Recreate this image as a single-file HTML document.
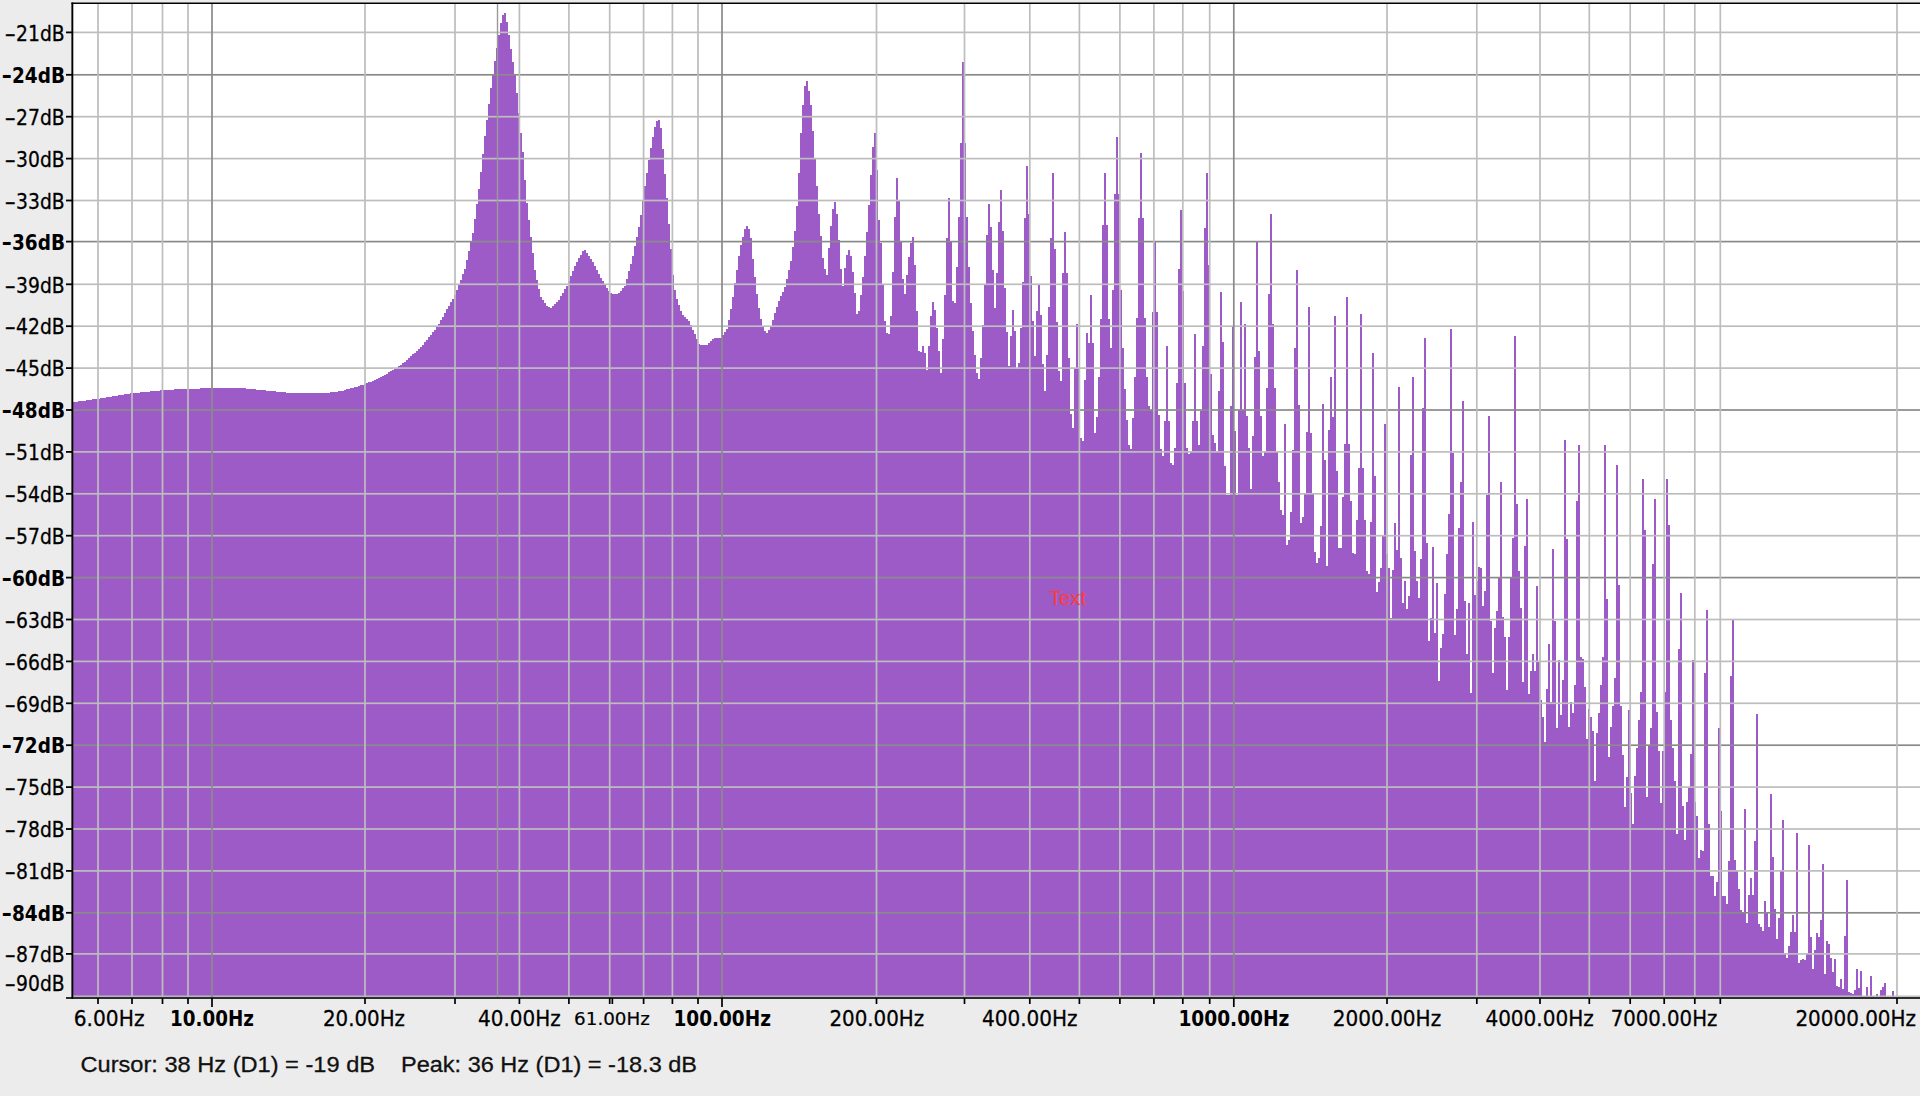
<!DOCTYPE html>
<html><head><meta charset="utf-8"><title>Frequency Analysis</title>
<style>
html,body{margin:0;padding:0;background:#ececec;}
body{width:1920px;height:1096px;overflow:hidden;position:relative;font-family:"DejaVu Sans","Liberation Sans",sans-serif;}
svg{position:absolute;left:0;top:0;display:block}
.ax{font-family:"DejaVu Sans","Liberation Sans",sans-serif;font-size:21.5px;fill:#000;stroke:#000;stroke-width:0.3px}
.axb{font-family:"DejaVu Sans Condensed","DejaVu Sans","Liberation Sans",sans-serif;font-weight:bold;font-size:21.5px;fill:#000}
.ax2{font-family:"DejaVu Sans","Liberation Sans",sans-serif;font-size:21.5px;fill:#000;stroke:#000;stroke-width:0.3px}
.axb2{font-family:"DejaVu Sans","Liberation Sans",sans-serif;font-weight:bold;font-size:21.5px;fill:#000}
.sm{font-family:"DejaVu Sans","Liberation Sans",sans-serif;font-size:18px;fill:#000;stroke:#000;stroke-width:0.2px}
.st{font-family:"Liberation Sans",sans-serif;font-size:22px;fill:#111;stroke:#111;stroke-width:0.3px;white-space:pre}
.tx{font-family:"Liberation Sans",sans-serif;font-size:21px;fill:#ff3b3b}
</style></head><body>
<svg width="1920" height="1096" viewBox="0 0 1920 1096" shape-rendering="crispEdges">
<rect x="0" y="0" width="1920" height="1096" fill="#ececec"/>
<rect x="72" y="3" width="1848" height="994" fill="#ffffff"/>
<path fill="#9d5bc8" d="M72.4,997.0V402H74V401.5H76V401.5H78V401H80V401H82V400.5H84V400.5H86V400H88V400H90V399.5H92V399H94V399H96V398.5H98V398.5H100V398H102V397.5H104V397.5H106V397H108V396.5H110V396.5H112V396H114V396H116V395.5H118V395H120V395H122V394.5H124V394H126V394H128V393.5H130V393H132V393H134V392.5H136V392.5H138V392.5H140V392H142V392H144V391.5H146V391.5H148V391.5H150V391H152V391H154V390.5H156V390.5H158V390.5H160V390H162V390H164V390H166V389.5H168V389.5H170V389.5H172V389.5H174V389H176V389H178V389H180V389H182V389H184V388.5H186V388.5H188V388.5H190V388.5H192V388.5H194V388.5H196V388.5H198V388.5H200V388H202V388H204V388H206V388H208V388H210V388H212V388H214V388H216V388H218V388H220V388H222V388H224V388H226V388H228V388H230V388H232V388H234V388H236V388H238V388H240V388H242V388H244V388H246V388.5H248V388.5H250V388.5H252V389H254V389H256V389.5H258V389.5H260V389.5H262V390H264V390H266V390.5H268V390.5H270V390.5H272V391H274V391H276V391.5H278V391.5H280V392H282V392H284V392H286V392.5H288V392.5H290V393H292V393H294V393H296V393H298V393H300V393H302V393H304V393H306V393H308V393H310V393H312V393H314V393H316V393H318V393H320V393H322V393H324V393H326V393H328V392.5H330V392H332V392H334V392H336V391.5H338V391H340V391H342V390.5H344V390H346V389H348V388.5H350V388H352V387.5H354V387H356V386.5H358V386H360V385H362V384.5H364V384H366V383H368V382H370V381.5H372V380.5H374V379.5H376V379H378V378H380V377H382V376H384V374.5H386V373.5H388V372H390V371H392V370H394V368.5H396V367.5H398V366H400V365H402V363H404V361.5H406V359.5H408V358H410V356H412V354H414V352.5H416V350.5H418V349H420V347H422V344.5H424V342H426V339.5H428V337H430V334.5H432V332H434V329.5H436V327H438V323.5H440V320H442V316.5H444V313H446V309H448V305.5H450V302H452V298.5H454V295H456V290H458V284.5H460V279.5H462V274H464V269H466V260H468V251H470V242H472V233H474V218.5H476V203.5H478V189H480V171.5H482V153.5H484V136H486V120H488V104H490V88H492V74.5H494V61H496V47.5H498V35H500V22.5H502V15H504V12.5H506V22H508V35H510V49H512V61.5H514V73.5H516V92.5H518V113H520V132.5H522V152H524V180H526V203H528V220H530V236.5H532V253H534V270H536V279.5H538V289H540V296.5H542V299.5H544V303H546V305.5H548V307H550V307.5H552V306H554V304H556V302H558V299.5H560V296H562V292.5H564V289H566V285.5H568V280.5H570V275.5H572V270.5H574V265.5H576V261.5H578V258H580V254.5H582V251H584V250H586V253H588V256H590V258.5H592V261.5H594V265.5H596V269.5H598V273.5H600V277.5H602V281H604V284H606V287.5H608V290.5H610V293H612V293.5H614V293.5H616V294H618V292.5H620V290.5H622V288H624V286H626V278.5H628V271H630V263.5H632V255.5H634V246H636V236.5H638V227H640V214.5H642V200H644V186H646V173H648V160H650V147.5H652V136.5H654V127H656V121H658V119.5H660V127.5H662V148.5H664V174H666V198H668V223.5H670V249H672V275H674V289.5H676V299H678V305H680V311H682V315H684V317H686V319H688V321H690V325H692V329.5H694V334H696V338.5H698V343.5H700V345H702V345H704V345H706V345H708V343H710V341H712V339H714V338H716V338H718V337.5H720V337.5H722V335H724V332H726V329H728V319.5H730V309H732V296.5H734V283H736V269.5H738V256H740V244.5H742V236.5H744V229H746V225.5H748V229H750V238H752V258.5H754V276.5H756V293.5H758V307.5H760V318.5H762V327H764V330.5H766V333H768V329.5H770V325.5H772V319.5H774V313H776V306.5H778V301H780V296H782V291.5H784V286.5H786V279H788V270H790V261H792V246.5H794V230.5H796V206H798V173H800V133H802V105H804V85.5H806V81H808V90.5H810V104.5H812V131H814V158H816V185.5H818V213.5H820V236H822V258H824V269H826V274.5H828V247.5H830V226H832V208.5H834V201.5H836V213.5H838V239.5H840V268.5H842V286H844V268H846V254.5H848V249.5H850V256H852V272H854V292.5H856V313.5H858V310.5H860V294.5H862V276.5H864V256H866V232H868V205H870V174.5H872V146.5H874V133H876V170H878V220H880V242.5H882V283.5H884V321H886V332.5H888V333.5H890V316H892V272H894V216.5H896V177.5H898V200.5H900V241.5H902V279H904V293.5H906V274.5H908V256.5H910V242.5H912V237H914V264.5H916V311H918V351H920V351.5H922V346H924V353H926V370H928V346H930V316H932V302H934V309.5H936V328H938V350.5H940V373H942V338.5H944V294.5H946V238H948V198H950V242H952V301H954V302.5H956V266.5H958V217H960V142.5H962V62H964V142.5H966V217H968V266.5H970V302.5H972V331H974V354.5H976V372.5H978V378.5H980V358H982V325H984V283.5H986V234.5H988V203.5H990V227H992V269.5H994V307.5H996V273H998V222H1000V189.5H1002V230.5H1004V288H1006V332H1008V366H1010V336H1012V310H1014V330.5H1016V368.5H1018V363H1020V328H1022V281.5H1024V218H1026V166H1028V214H1030V275.5H1032V321H1034V356H1036V311H1038V285H1040V315H1042V363.5H1044V390.5H1046V355H1048V307H1050V237.5H1052V172.5H1054V248.5H1056V321.5H1058V370.5H1060V381H1062V272.5H1064V232H1066V272.5H1068V357.5H1070V413.5H1072V427.5H1074V368H1076V324H1078V368H1080V437.5H1082V440.5H1084V379.5H1086V332.5H1088V343H1090V295H1092V343H1094V433H1096V417H1098V376.5H1100V318.5H1102V225H1104V172.5H1106V225H1108V318.5H1110V348H1112V289.5H1114V193.5H1116V137H1118V193.5H1120V289.5H1122V348H1124V388.5H1126V420H1128V445H1130V449H1132V418H1134V377H1136V317.5H1138V217.5H1140V152.5H1142V217.5H1144V317.5H1146V377H1148V406H1150V409.5H1152V312H1154V241.5H1156V312H1158V414.5H1160V448.5H1162V456H1164V421H1166V346H1168V421H1170V462.5H1172V464.5H1174V448H1176V383H1178V269H1180V210H1182V291H1184V383H1186V448H1188V454H1190V452H1192V421H1194V334H1196V421H1198V445H1200V410.5H1202V346H1204V228H1206V172.5H1208V264.5H1210V374H1212V435H1214V443H1216V451.5H1218V390.5H1220V292H1222V342H1224V465.5H1226V495H1228V495H1230V406H1232V327H1234V431H1236V495H1238V409.5H1240V301.5H1242V409.5H1244V324H1246V415.5H1248V447.5H1250V488.5H1252V436H1254V357H1256V241.5H1258V351H1260V415.5H1262V456H1264V451.5H1266V387.5H1268V293.5H1270V213.5H1272V323.5H1274V387.5H1276V451.5H1278V482H1280V509.5H1282V515H1284V424H1286V544.5H1288V540H1290V511.5H1292V450H1294V348H1296V269.5H1298V405H1300V522.5H1302V517H1304V492.5H1306V431.5H1308V307H1310V433H1312V492.5H1314V551.5H1316V563H1318V558H1320V526H1322V404H1324V459.5H1326V566H1328V430H1330V376.5H1332V417H1334V315.5H1336V471H1338V547.5H1340V548H1342V497H1344V444H1346V297H1348V444H1350V500.5H1352V553H1354V554H1356V519.5H1358V468H1360V313.5H1362V468H1364V519.5H1366V570.5H1368V574H1370V521.5H1372V353H1374V475.5H1376V591.5H1378V581.5H1380V567.5H1382V535H1384V424H1386V553.5H1388V567.5H1390V617.5H1392V569.5H1394V523H1396V549.5H1398V387H1400V557.5H1402V603H1404V581H1406V609H1408V595.5H1410V454.5H1412V377H1414V551H1416V580.5H1418V598H1420V558.5H1422V408H1424V338H1426V543H1428V641H1430V617.5H1432V547H1434V633H1436V583H1438V680.5H1440V648H1442V634H1444V594H1446V554H1448V514H1450V329H1452V452.5H1454V634.5H1456V609H1458V528H1460V482H1462V400.5H1464V601H1466V653.5H1468V603H1470V692.5H1472V521.5H1474V594.5H1476V580.5H1478V566.5H1480V568H1482V606H1484V590.5H1486V495H1488V416H1490V620.5H1492V673H1494V627.5H1496V611H1498V577.5H1500V482H1502V617H1504V637H1506V689.5H1508V637H1510V577H1512V537.5H1514V336H1516V503.5H1518V570.5H1520V608H1522V681.5H1524V546H1526V499H1528V694H1530V670.5H1532V654H1534V670.5H1536V586H1538V661.5H1540V699.5H1542V716.5H1544V741.5H1546V689H1548V644H1550V701.5H1552V548.5H1554V621H1556V728H1558V659.5H1560V715H1562V679.5H1564V440H1566V538.5H1568V726.5H1570V701.5H1572V713H1574V685H1576V500.5H1578V444.5H1580V657H1582V658.5H1584V686.5H1586V739H1588V709H1590V717H1592V731H1594V781H1596V732.5H1598V713H1600V685H1602V657H1604V444.5H1606V598.5H1608V757H1610V727H1612V705.5H1614V677.5H1616V465H1618V585H1620V705.5H1622V754.5H1624V807H1626V777H1628V710H1630V792.5H1632V823.5H1634V775.5H1636V747.5H1638V719.5H1640V691.5H1642V479H1644V529.5H1646V796.5H1648V744.5H1650V728H1652V563.5H1654V499H1656V711.5H1658V750.5H1660V803H1662V750.5H1664V691.5H1666V479H1668V524.5H1670V719.5H1672V747.5H1674V781H1676V833.5H1678V649H1680V593H1682V805.5H1684V840H1686V802H1688V788H1690V753.5H1692V659.5H1694V802H1696V816H1698V857.5H1700V849.5H1702V850.5H1704V673H1706V610H1708V823.5H1710V876H1712V875.5H1714V896H1716V882H1718V727.5H1720V810.5H1722V896H1724V896H1726V903.5H1728V860.5H1730V675.5H1732V620H1734V860H1736V871H1738V888.5H1740V909.5H1742V911.5H1744V809H1746V923H1748V894.5H1750V878H1752V894.5H1754V841H1756V713.5H1758V923.5H1760V927H1762V930.5H1764V900.5H1766V913H1768V927H1770V793.5H1772V857H1774V909H1776V939H1778V918H1780V870H1782V819.5H1784V953H1786V958H1788V946H1790V932H1792V915H1794V932H1796V832.5H1798V963H1800V960H1802V959H1804V960H1806V954H1808V844.5H1810V936.5H1812V968.5H1814V950H1816V933H1818V936.5H1820V919.5H1822V863.5H1824V973.5H1826V940.5H1828V944H1830V958H1832V972H1834V958.5H1836V986H1838V987H1840V978.5H1842V988.5H1844V936H1846V880H1848V991.5H1850V992.5H1852V993.5H1854V990H1856V968.5H1858V987.5H1860V970.5H1862V995.5H1864V995.5H1866V986.5H1868V996H1870V975.5H1872V996H1874V996.5H1876V993.5H1878V996.5H1880V989.5H1882V987H1884V982.5H1886V997H1888V997H1890V997H1892V991H1894V997H1896V997H1898V997H1900V997H1902V997H1904V997H1906V997H1908V997H1910V997H1912V997H1914V997H1916V997H1918V997H1920V997.0Z"/>

<g shape-rendering="auto">
<rect x="73" y="31.55" width="1847" height="1.7" fill="#bdbdbd"/>
<rect x="73" y="73.95" width="1847" height="1.7" fill="#8a8a8a"/>
<rect x="73" y="115.85" width="1847" height="1.7" fill="#bdbdbd"/>
<rect x="73" y="157.75" width="1847" height="1.7" fill="#bdbdbd"/>
<rect x="73" y="199.65" width="1847" height="1.7" fill="#bdbdbd"/>
<rect x="73" y="240.75" width="1847" height="1.7" fill="#8a8a8a"/>
<rect x="73" y="283.45" width="1847" height="1.7" fill="#bdbdbd"/>
<rect x="73" y="325.35" width="1847" height="1.7" fill="#bdbdbd"/>
<rect x="73" y="367.25" width="1847" height="1.7" fill="#bdbdbd"/>
<rect x="73" y="409.15" width="1847" height="1.7" fill="#8a8a8a"/>
<rect x="73" y="451.05" width="1847" height="1.7" fill="#bdbdbd"/>
<rect x="73" y="492.95" width="1847" height="1.7" fill="#bdbdbd"/>
<rect x="73" y="534.85" width="1847" height="1.7" fill="#bdbdbd"/>
<rect x="73" y="576.75" width="1847" height="1.7" fill="#8a8a8a"/>
<rect x="73" y="618.65" width="1847" height="1.7" fill="#bdbdbd"/>
<rect x="73" y="660.55" width="1847" height="1.7" fill="#bdbdbd"/>
<rect x="73" y="702.45" width="1847" height="1.7" fill="#bdbdbd"/>
<rect x="73" y="744.35" width="1847" height="1.7" fill="#8a8a8a"/>
<rect x="73" y="786.25" width="1847" height="1.7" fill="#bdbdbd"/>
<rect x="73" y="828.15" width="1847" height="1.7" fill="#bdbdbd"/>
<rect x="73" y="870.05" width="1847" height="1.7" fill="#bdbdbd"/>
<rect x="73" y="911.95" width="1847" height="1.7" fill="#8a8a8a"/>
<rect x="73" y="953.05" width="1847" height="1.7" fill="#bdbdbd"/>
<rect x="73" y="995.5" width="1847" height="1.4" fill="#bdbdbd"/>
<rect x="97.15" y="4" width="1.7" height="993" fill="#bdbdbd"/>
<rect x="131.15" y="4" width="1.7" height="993" fill="#bdbdbd"/>
<rect x="161.65" y="4" width="1.7" height="993" fill="#bdbdbd"/>
<rect x="187.15" y="4" width="1.7" height="993" fill="#bdbdbd"/>
<rect x="211.15" y="4" width="1.7" height="993" fill="#8a8a8a"/>
<rect x="364.15" y="4" width="1.7" height="993" fill="#bdbdbd"/>
<rect x="454.15" y="4" width="1.7" height="993" fill="#bdbdbd"/>
<rect x="496.80" y="4" width="1.4" height="993" fill="#9a9a9a"/>
<rect x="518.55" y="4" width="1.7" height="993" fill="#bdbdbd"/>
<rect x="568.05" y="4" width="1.7" height="993" fill="#bdbdbd"/>
<rect x="608.85" y="4" width="1.7" height="993" fill="#bdbdbd"/>
<rect x="642.75" y="4" width="1.7" height="993" fill="#bdbdbd"/>
<rect x="671.55" y="4" width="1.7" height="993" fill="#bdbdbd"/>
<rect x="697.15" y="4" width="1.7" height="993" fill="#bdbdbd"/>
<rect x="721.15" y="4" width="1.7" height="993" fill="#8a8a8a"/>
<rect x="875.65" y="4" width="1.7" height="993" fill="#bdbdbd"/>
<rect x="963.65" y="4" width="1.7" height="993" fill="#bdbdbd"/>
<rect x="1028.95" y="4" width="1.7" height="993" fill="#bdbdbd"/>
<rect x="1078.55" y="4" width="1.7" height="993" fill="#bdbdbd"/>
<rect x="1119.05" y="4" width="1.7" height="993" fill="#bdbdbd"/>
<rect x="1153.05" y="4" width="1.7" height="993" fill="#bdbdbd"/>
<rect x="1181.95" y="4" width="1.7" height="993" fill="#bdbdbd"/>
<rect x="1208.85" y="4" width="1.7" height="993" fill="#bdbdbd"/>
<rect x="1232.95" y="4" width="1.7" height="993" fill="#8a8a8a"/>
<rect x="1386.15" y="4" width="1.7" height="993" fill="#bdbdbd"/>
<rect x="1475.95" y="4" width="1.7" height="993" fill="#bdbdbd"/>
<rect x="1539.15" y="4" width="1.7" height="993" fill="#bdbdbd"/>
<rect x="1588.45" y="4" width="1.7" height="993" fill="#bdbdbd"/>
<rect x="1629.35" y="4" width="1.7" height="993" fill="#bdbdbd"/>
<rect x="1663.35" y="4" width="1.7" height="993" fill="#bdbdbd"/>
<rect x="1693.95" y="4" width="1.7" height="993" fill="#bdbdbd"/>
<rect x="1719.45" y="4" width="1.7" height="993" fill="#bdbdbd"/>
<rect x="1896.15" y="4" width="1.7" height="993" fill="#bdbdbd"/>
</g>
<g shape-rendering="auto"><rect x="71.4" y="2.5" width="1.9" height="996.3" fill="#000"/>
<rect x="71.4" y="2.5" width="1848.6" height="1.5" fill="#000"/>
<rect x="66" y="997.2" width="1854" height="1.6" fill="#000"/></g>
<rect shape-rendering="auto" x="66" y="31.50" width="6" height="1.8" fill="#000"/>
<text class="ax2" x="4.6" y="40.6"><tspan textLength="11.5" lengthAdjust="spacingAndGlyphs">-</tspan><tspan textLength="48.6" lengthAdjust="spacingAndGlyphs">21dB</tspan></text>
<rect shape-rendering="auto" x="66" y="73.90" width="6" height="1.8" fill="#000"/>
<text class="axb2" x="1.5" y="83.0"><tspan textLength="10.5" lengthAdjust="spacingAndGlyphs">-</tspan><tspan textLength="53" lengthAdjust="spacingAndGlyphs">24dB</tspan></text>
<rect shape-rendering="auto" x="66" y="115.80" width="6" height="1.8" fill="#000"/>
<text class="ax2" x="4.6" y="124.9"><tspan textLength="11.5" lengthAdjust="spacingAndGlyphs">-</tspan><tspan textLength="48.6" lengthAdjust="spacingAndGlyphs">27dB</tspan></text>
<rect shape-rendering="auto" x="66" y="157.70" width="6" height="1.8" fill="#000"/>
<text class="ax2" x="4.6" y="166.8"><tspan textLength="11.5" lengthAdjust="spacingAndGlyphs">-</tspan><tspan textLength="48.6" lengthAdjust="spacingAndGlyphs">30dB</tspan></text>
<rect shape-rendering="auto" x="66" y="199.60" width="6" height="1.8" fill="#000"/>
<text class="ax2" x="4.6" y="208.7"><tspan textLength="11.5" lengthAdjust="spacingAndGlyphs">-</tspan><tspan textLength="48.6" lengthAdjust="spacingAndGlyphs">33dB</tspan></text>
<rect shape-rendering="auto" x="66" y="240.70" width="6" height="1.8" fill="#000"/>
<text class="axb2" x="1.5" y="249.8"><tspan textLength="10.5" lengthAdjust="spacingAndGlyphs">-</tspan><tspan textLength="53" lengthAdjust="spacingAndGlyphs">36dB</tspan></text>
<rect shape-rendering="auto" x="66" y="283.40" width="6" height="1.8" fill="#000"/>
<text class="ax2" x="4.6" y="292.5"><tspan textLength="11.5" lengthAdjust="spacingAndGlyphs">-</tspan><tspan textLength="48.6" lengthAdjust="spacingAndGlyphs">39dB</tspan></text>
<rect shape-rendering="auto" x="66" y="325.30" width="6" height="1.8" fill="#000"/>
<text class="ax2" x="4.6" y="334.4"><tspan textLength="11.5" lengthAdjust="spacingAndGlyphs">-</tspan><tspan textLength="48.6" lengthAdjust="spacingAndGlyphs">42dB</tspan></text>
<rect shape-rendering="auto" x="66" y="367.20" width="6" height="1.8" fill="#000"/>
<text class="ax2" x="4.6" y="376.3"><tspan textLength="11.5" lengthAdjust="spacingAndGlyphs">-</tspan><tspan textLength="48.6" lengthAdjust="spacingAndGlyphs">45dB</tspan></text>
<rect shape-rendering="auto" x="66" y="409.10" width="6" height="1.8" fill="#000"/>
<text class="axb2" x="1.5" y="418.2"><tspan textLength="10.5" lengthAdjust="spacingAndGlyphs">-</tspan><tspan textLength="53" lengthAdjust="spacingAndGlyphs">48dB</tspan></text>
<rect shape-rendering="auto" x="66" y="451.00" width="6" height="1.8" fill="#000"/>
<text class="ax2" x="4.6" y="460.1"><tspan textLength="11.5" lengthAdjust="spacingAndGlyphs">-</tspan><tspan textLength="48.6" lengthAdjust="spacingAndGlyphs">51dB</tspan></text>
<rect shape-rendering="auto" x="66" y="492.90" width="6" height="1.8" fill="#000"/>
<text class="ax2" x="4.6" y="502.0"><tspan textLength="11.5" lengthAdjust="spacingAndGlyphs">-</tspan><tspan textLength="48.6" lengthAdjust="spacingAndGlyphs">54dB</tspan></text>
<rect shape-rendering="auto" x="66" y="534.80" width="6" height="1.8" fill="#000"/>
<text class="ax2" x="4.6" y="543.9"><tspan textLength="11.5" lengthAdjust="spacingAndGlyphs">-</tspan><tspan textLength="48.6" lengthAdjust="spacingAndGlyphs">57dB</tspan></text>
<rect shape-rendering="auto" x="66" y="576.70" width="6" height="1.8" fill="#000"/>
<text class="axb2" x="1.5" y="585.8"><tspan textLength="10.5" lengthAdjust="spacingAndGlyphs">-</tspan><tspan textLength="53" lengthAdjust="spacingAndGlyphs">60dB</tspan></text>
<rect shape-rendering="auto" x="66" y="618.60" width="6" height="1.8" fill="#000"/>
<text class="ax2" x="4.6" y="627.7"><tspan textLength="11.5" lengthAdjust="spacingAndGlyphs">-</tspan><tspan textLength="48.6" lengthAdjust="spacingAndGlyphs">63dB</tspan></text>
<rect shape-rendering="auto" x="66" y="660.50" width="6" height="1.8" fill="#000"/>
<text class="ax2" x="4.6" y="669.6"><tspan textLength="11.5" lengthAdjust="spacingAndGlyphs">-</tspan><tspan textLength="48.6" lengthAdjust="spacingAndGlyphs">66dB</tspan></text>
<rect shape-rendering="auto" x="66" y="702.40" width="6" height="1.8" fill="#000"/>
<text class="ax2" x="4.6" y="711.5"><tspan textLength="11.5" lengthAdjust="spacingAndGlyphs">-</tspan><tspan textLength="48.6" lengthAdjust="spacingAndGlyphs">69dB</tspan></text>
<rect shape-rendering="auto" x="66" y="744.30" width="6" height="1.8" fill="#000"/>
<text class="axb2" x="1.5" y="753.4"><tspan textLength="10.5" lengthAdjust="spacingAndGlyphs">-</tspan><tspan textLength="53" lengthAdjust="spacingAndGlyphs">72dB</tspan></text>
<rect shape-rendering="auto" x="66" y="786.20" width="6" height="1.8" fill="#000"/>
<text class="ax2" x="4.6" y="795.3"><tspan textLength="11.5" lengthAdjust="spacingAndGlyphs">-</tspan><tspan textLength="48.6" lengthAdjust="spacingAndGlyphs">75dB</tspan></text>
<rect shape-rendering="auto" x="66" y="828.10" width="6" height="1.8" fill="#000"/>
<text class="ax2" x="4.6" y="837.2"><tspan textLength="11.5" lengthAdjust="spacingAndGlyphs">-</tspan><tspan textLength="48.6" lengthAdjust="spacingAndGlyphs">78dB</tspan></text>
<rect shape-rendering="auto" x="66" y="870.00" width="6" height="1.8" fill="#000"/>
<text class="ax2" x="4.6" y="879.1"><tspan textLength="11.5" lengthAdjust="spacingAndGlyphs">-</tspan><tspan textLength="48.6" lengthAdjust="spacingAndGlyphs">81dB</tspan></text>
<rect shape-rendering="auto" x="66" y="911.90" width="6" height="1.8" fill="#000"/>
<text class="axb2" x="1.5" y="921.0"><tspan textLength="10.5" lengthAdjust="spacingAndGlyphs">-</tspan><tspan textLength="53" lengthAdjust="spacingAndGlyphs">84dB</tspan></text>
<rect shape-rendering="auto" x="66" y="953.00" width="6" height="1.8" fill="#000"/>
<text class="ax2" x="4.6" y="962.1"><tspan textLength="11.5" lengthAdjust="spacingAndGlyphs">-</tspan><tspan textLength="48.6" lengthAdjust="spacingAndGlyphs">87dB</tspan></text>
<text class="ax2" x="4.6" y="990.5"><tspan textLength="11.5" lengthAdjust="spacingAndGlyphs">-</tspan><tspan textLength="48.6" lengthAdjust="spacingAndGlyphs">90dB</tspan></text>
<rect shape-rendering="auto" x="97.15" y="998" width="1.7" height="6" fill="#000"/>
<rect shape-rendering="auto" x="131.15" y="998" width="1.7" height="6" fill="#000"/>
<rect shape-rendering="auto" x="161.65" y="998" width="1.7" height="6" fill="#000"/>
<rect shape-rendering="auto" x="187.15" y="998" width="1.7" height="6" fill="#000"/>
<rect shape-rendering="auto" x="211.15" y="998" width="1.7" height="9" fill="#000"/>
<rect shape-rendering="auto" x="364.15" y="998" width="1.7" height="6" fill="#000"/>
<rect shape-rendering="auto" x="454.15" y="998" width="1.7" height="6" fill="#000"/>
<rect shape-rendering="auto" x="518.55" y="998" width="1.7" height="6" fill="#000"/>
<rect shape-rendering="auto" x="568.05" y="998" width="1.7" height="6" fill="#000"/>
<rect shape-rendering="auto" x="608.85" y="998" width="1.7" height="6" fill="#000"/>
<rect shape-rendering="auto" x="642.75" y="998" width="1.7" height="6" fill="#000"/>
<rect shape-rendering="auto" x="671.55" y="998" width="1.7" height="6" fill="#000"/>
<rect shape-rendering="auto" x="697.15" y="998" width="1.7" height="6" fill="#000"/>
<rect shape-rendering="auto" x="721.15" y="998" width="1.7" height="9" fill="#000"/>
<rect shape-rendering="auto" x="875.65" y="998" width="1.7" height="6" fill="#000"/>
<rect shape-rendering="auto" x="963.65" y="998" width="1.7" height="6" fill="#000"/>
<rect shape-rendering="auto" x="1028.95" y="998" width="1.7" height="6" fill="#000"/>
<rect shape-rendering="auto" x="1078.55" y="998" width="1.7" height="6" fill="#000"/>
<rect shape-rendering="auto" x="1119.05" y="998" width="1.7" height="6" fill="#000"/>
<rect shape-rendering="auto" x="1153.05" y="998" width="1.7" height="6" fill="#000"/>
<rect shape-rendering="auto" x="1181.95" y="998" width="1.7" height="6" fill="#000"/>
<rect shape-rendering="auto" x="1208.85" y="998" width="1.7" height="6" fill="#000"/>
<rect shape-rendering="auto" x="1232.95" y="998" width="1.7" height="9" fill="#000"/>
<rect shape-rendering="auto" x="1386.15" y="998" width="1.7" height="6" fill="#000"/>
<rect shape-rendering="auto" x="1475.95" y="998" width="1.7" height="6" fill="#000"/>
<rect shape-rendering="auto" x="1539.15" y="998" width="1.7" height="6" fill="#000"/>
<rect shape-rendering="auto" x="1588.45" y="998" width="1.7" height="6" fill="#000"/>
<rect shape-rendering="auto" x="1629.35" y="998" width="1.7" height="6" fill="#000"/>
<rect shape-rendering="auto" x="1663.35" y="998" width="1.7" height="6" fill="#000"/>
<rect shape-rendering="auto" x="1693.95" y="998" width="1.7" height="6" fill="#000"/>
<rect shape-rendering="auto" x="1719.45" y="998" width="1.7" height="6" fill="#000"/>
<rect shape-rendering="auto" x="1896.15" y="998" width="1.7" height="6" fill="#000"/>
<rect shape-rendering="auto" x="611.5" y="998" width="1.7" height="6" fill="#000"/>
<text class="ax" x="109.1" y="1025.8" text-anchor="middle" textLength="70.8" lengthAdjust="spacingAndGlyphs">6.00Hz</text>
<text class="axb" x="212" y="1025.8" text-anchor="middle" textLength="83.8" lengthAdjust="spacingAndGlyphs">10.00Hz</text>
<text class="ax" x="364" y="1025.8" text-anchor="middle" textLength="82" lengthAdjust="spacingAndGlyphs">20.00Hz</text>
<text class="ax" x="519.4" y="1025.8" text-anchor="middle" textLength="82.6" lengthAdjust="spacingAndGlyphs">40.00Hz</text>
<text class="sm" x="612" y="1024.5" text-anchor="middle" textLength="75.8" lengthAdjust="spacingAndGlyphs">61.00Hz</text>
<text class="axb" x="722.2" y="1025.8" text-anchor="middle" textLength="97.5" lengthAdjust="spacingAndGlyphs">100.00Hz</text>
<text class="ax" x="876.8" y="1025.8" text-anchor="middle" textLength="94.8" lengthAdjust="spacingAndGlyphs">200.00Hz</text>
<text class="ax" x="1029.8" y="1025.8" text-anchor="middle" textLength="95.6" lengthAdjust="spacingAndGlyphs">400.00Hz</text>
<text class="axb" x="1233.9" y="1025.8" text-anchor="middle" textLength="111" lengthAdjust="spacingAndGlyphs">1000.00Hz</text>
<text class="ax" x="1387" y="1025.8" text-anchor="middle" textLength="108.4" lengthAdjust="spacingAndGlyphs">2000.00Hz</text>
<text class="ax" x="1539.6" y="1025.8" text-anchor="middle" textLength="108.4" lengthAdjust="spacingAndGlyphs">4000.00Hz</text>
<text class="ax" x="1664" y="1025.8" text-anchor="middle" textLength="106.7" lengthAdjust="spacingAndGlyphs">7000.00Hz</text>
<text class="ax" x="1855.7" y="1025.8" text-anchor="middle" textLength="120.6" lengthAdjust="spacingAndGlyphs">20000.00Hz</text>
<text class="tx" x="1049" y="604.5" textLength="37" lengthAdjust="spacingAndGlyphs">Text</text>
<text class="st" x="80.5" y="1072" textLength="294.5" lengthAdjust="spacingAndGlyphs">Cursor: 38 Hz (D1) = -19 dB</text>
<text class="st" x="401" y="1072" textLength="296" lengthAdjust="spacingAndGlyphs">Peak: 36 Hz (D1) = -18.3 dB</text>
</svg></body></html>
